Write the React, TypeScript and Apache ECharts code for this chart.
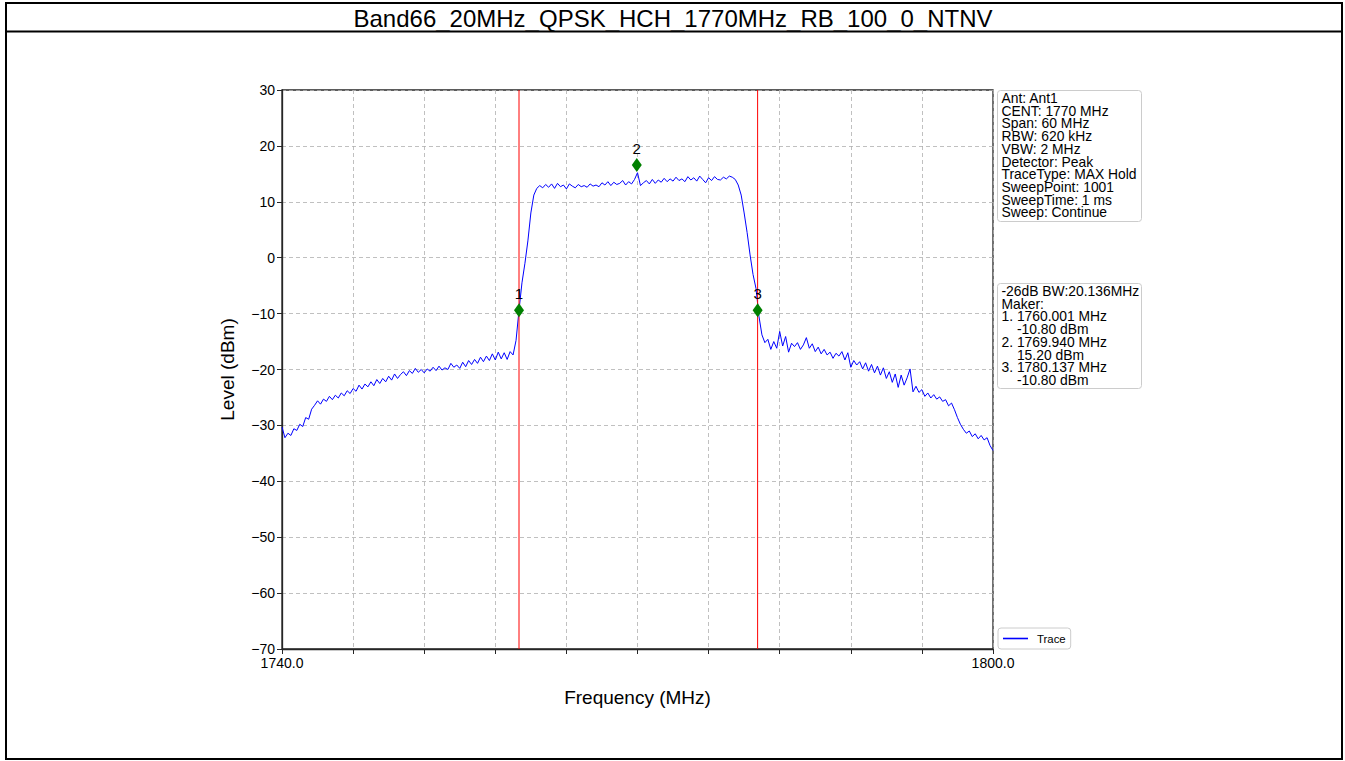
import React, { useEffect, useRef } from "react";
import * as echarts from "echarts";

const TITLE = "Band66_20MHz_QPSK_HCH_1770MHz_RB_100_0_NTNV";
const FREQ_START = 1740;
const FREQ_STEP = 0.25;
const X_MIN = 1740;
const X_MAX = 1800;
const Y_MIN = -70;
const Y_MAX = 30;

// Trace levels (dBm), one per 0.25 MHz from 1740.0 to 1800.0
const traceLevels = [
  -30.3, -32.2, -31.4, -31.8, -30.6, -30.9, -29.8, -30.2, -28.6, -28.9, -27.1, -26.4, -25.6, -26.2, -25.3, -25.7, -24.8, -25.4, -24.6, -25.1,
  -24.2, -24.7, -23.8, -24.3, -23.4, -23.9, -22.8, -23.5, -22.6, -23.1, -22.2, -22.9, -21.8, -22.5, -21.6, -22.2, -21.2, -21.9, -20.8, -21.6,
  -20.9, -20.4, -21.1, -20.2, -20.7, -19.8, -20.5, -20.0, -20.6, -19.9, -20.3, -19.6, -20.2, -19.4, -20.1, -19.7, -20.0, -18.9, -19.6, -19.2,
  -19.8, -18.7, -19.5, -18.4, -19.1, -18.2, -18.9, -17.8, -18.6, -17.6, -18.4, -17.2, -18.3, -16.9, -18.1, -17.0, -18.2, -16.8, -17.4, -14.8,
  -9.4, -4.5, -1.0, 3.0, 8.0, 11.2, 12.4, 12.9, 12.5, 13.1, 12.6, 13.2, 12.4, 13.3, 12.7, 13.0, 12.3, 13.2, 12.8, 12.5,
  13.1, 12.7, 12.9, 12.6, 13.2, 12.8, 13.0, 12.7, 13.4, 13.0, 13.6, 12.9, 13.5, 13.1, 13.3, 13.8, 13.0, 13.6, 13.2, 14.0,
  15.2, 12.9, 13.4, 13.8, 13.2, 14.0, 13.3, 13.9, 13.5, 14.2, 13.6, 14.1, 13.7, 14.4, 13.8, 14.1, 13.6, 14.5, 13.9, 14.3,
  13.7, 14.6, 14.0, 13.4, 14.3, 13.8, 14.5, 14.0, 13.9, 14.4, 14.1, 14.6, 14.4, 14.0, 13.0, 11.2, 8.0, 4.5, 0.5, -3.0,
  -5.5, -10.5, -13.8, -15.2, -14.6, -16.4, -15.0, -16.2, -13.2, -15.8, -14.1, -16.9, -15.3, -15.9, -15.2, -16.4, -15.6, -14.3, -16.2, -15.4,
  -16.8, -16.0, -17.2, -16.4, -17.4, -16.9, -18.0, -17.1, -17.6, -16.8, -18.3, -17.0, -19.6, -18.4, -19.2, -18.6, -19.9, -18.8, -20.3, -19.1,
  -20.6, -19.4, -21.0, -19.7, -21.6, -20.4, -22.3, -20.8, -23.2, -21.0, -22.8, -21.5, -19.9, -24.0, -23.0, -24.1, -23.6, -24.8, -24.2, -25.1,
  -24.5, -25.3, -24.9, -25.7, -25.4, -26.5, -26.0, -27.2, -28.6, -29.8, -30.7, -31.4, -31.0, -32.0, -31.5, -32.4, -31.8, -32.6, -32.2, -33.6,
  -34.5,
];

const markerNames = ["1", "2", "3"];
const markerFreqs = [1760.001, 1769.94, 1780.137];
const markerLevels = [-9.4, 16.6, -9.4];
const redLineFreqs = [1760.001, 1780.137];

const infoLines = [
  "Ant: Ant1",
  "CENT: 1770 MHz",
  "Span: 60 MHz",
  "RBW: 620 kHz",
  "VBW: 2 MHz",
  "Detector: Peak",
  "TraceType: MAX Hold",
  "SweepPoint: 1001",
  "SweepTime: 1 ms",
  "Sweep: Continue",
];

const markerInfoLines = [
  "-26dB BW:20.136MHz",
  "Maker:",
  "1. 1760.001 MHz",
  "    -10.80 dBm",
  "2. 1769.940 MHz",
  "    15.20 dBm",
  "3. 1780.137 MHz",
  "    -10.80 dBm",
];

const FONT = "'Liberation Sans', Arial, Helvetica, sans-serif";
const LINE_STEP = 12.7;

function infoBox(x: number, y: number, w: number, h: number, lines: string[]) {
  return {
    type: "group",
    left: x,
    top: y,
    children: [
      {
        type: "rect",
        shape: { x: 0, y: 0, width: w, height: h, r: 3 },
        style: { fill: "rgba(255,255,255,0.85)", stroke: "#cccccc", lineWidth: 1 },
      },
      ...lines.map((t, i) => ({
        type: "text",
        x: 4,
        y: 7.5 + i * LINE_STEP,
        scaleX: 1.1,
        scaleY: 1.1,
        originX: 0,
        originY: 0,
        style: {
          text: t,
          fontSize: 12.6,
          fontFamily: FONT,
          fill: "#000",
          textVerticalAlign: "middle",
        },
      })),
    ],
  };
}

export default function App() {
  const ref = useRef<HTMLDivElement>(null);
  useEffect(() => {
    document.body.style.margin = "0";
    if (!ref.current) return;
    const chart = echarts.init(ref.current, undefined, { renderer: "svg" });
    const traceData = traceLevels.map((v, i) => [FREQ_START + i * FREQ_STEP, v]);
    const axisColor = "#262626";
    const redSeries = redLineFreqs.map((f, i) => ({
      name: "marker-line-" + i,
      type: "line",
      data: [
        [f, Y_MIN],
        [f, Y_MAX],
      ],
      showSymbol: false,
      silent: true,
      color: "#ff0000",
      lineStyle: { color: "#ff0000", width: 1 },
      z: 4,
    }));
    chart.setOption({
      animation: false,
      backgroundColor: "#ffffff",
      textStyle: { fontFamily: FONT },
      grid: {
        left: 282,
        top: 90,
        width: 711,
        height: 559,
        show: true,
        borderColor: axisColor,
        borderWidth: 1.3,
        backgroundColor: "transparent",
      },
      xAxis: {
        type: "value",
        min: X_MIN,
        max: X_MAX,
        interval: 6,
        name: "Frequency (MHz)",
        nameLocation: "middle",
        nameGap: 39,
        nameTextStyle: { fontSize: 19, color: "#000", fontFamily: FONT },
        axisLine: { show: true, onZero: false, lineStyle: { color: axisColor, width: 1.3 } },
        axisTick: { show: true, length: 5, lineStyle: { color: axisColor, width: 1 } },
        axisLabel: {
          fontSize: 14,
          color: "#000",
          margin: 7,
          showMinLabel: true,
          showMaxLabel: true,
          formatter: (v: number) => (v === X_MIN || v === X_MAX ? v.toFixed(1) : ""),
        },
        splitLine: { show: true, lineStyle: { type: [4, 3], color: "#b0b0b0", width: 0.8 } },
      },
      yAxis: {
        type: "value",
        min: Y_MIN,
        max: Y_MAX,
        interval: 10,
        name: "Level (dBm)",
        nameLocation: "middle",
        nameGap: 45,
        nameTextStyle: { fontSize: 19, color: "#000", fontFamily: FONT },
        axisLine: { show: true, onZero: false, lineStyle: { color: axisColor, width: 1.3 } },
        axisTick: { show: true, length: 5, lineStyle: { color: axisColor, width: 1 } },
        axisLabel: {
          fontSize: 14,
          color: "#000",
          margin: 7,
          formatter: (v: number) => (v < 0 ? "\u2212" + Math.abs(v) : String(v)),
        },
        splitLine: { show: true, lineStyle: { type: [4, 3], color: "#b0b0b0", width: 0.8 } },
      },
      legend: {
        data: [{ name: "Trace", icon: "rect" }],
        left: 998,
        top: 628,
        itemWidth: 25,
        itemHeight: 1.6,
        padding: [5, 5, 5, 5],
        borderColor: "#cccccc",
        borderWidth: 1,
        borderRadius: 3,
        backgroundColor: "#ffffff",
        textStyle: { fontSize: 11.4, color: "#000", fontFamily: FONT, padding: [0, 0, 0, 4] },
      },
      series: [
        {
          name: "Trace",
          type: "line",
          data: traceData,
          showSymbol: false,
          color: "#0000ff",
          lineStyle: { color: "#0000ff", width: 1 },
          z: 3,
        },
        ...redSeries,
        {
          name: "Markers",
          type: "scatter",
          symbol: "diamond",
          symbolSize: [10, 14],
          itemStyle: { color: "#008000", opacity: 1 },
          z: 5,
          label: {
            show: true,
            position: "top",
            distance: 2,
            fontSize: 15,
            color: "#000",
            opacity: 1,
            fontFamily: FONT,
            formatter: (p: any) => p.name,
          },
          data: markerFreqs.map((f, i) => ({ name: markerNames[i], value: [f, markerLevels[i]] })),
        },
      ],
      graphic: [
        {
          type: "rect",
          shape: { x: 6, y: 3, width: 1336, height: 756 },
          style: { fill: "none", stroke: "#000", lineWidth: 2 },
          silent: true,
        },
        {
          type: "line",
          shape: { x1: 6, y1: 31.5, x2: 1342, y2: 31.5 },
          style: { stroke: "#000", lineWidth: 2 },
          silent: true,
        },
        {
          type: "text",
          x: 673,
          y: 18,
          style: {
            text: TITLE,
            fontSize: 24,
            fontFamily: FONT,
            fill: "#000",
            textAlign: "center",
            textVerticalAlign: "middle",
          },
        },
        infoBox(997, 90, 144, 131, infoLines),
        infoBox(997, 283, 144, 105, markerInfoLines),
      ],
    });
    return () => chart.dispose();
  }, []);
  return <div ref={ref} style={{ width: 1345, height: 761 }} />;
}
